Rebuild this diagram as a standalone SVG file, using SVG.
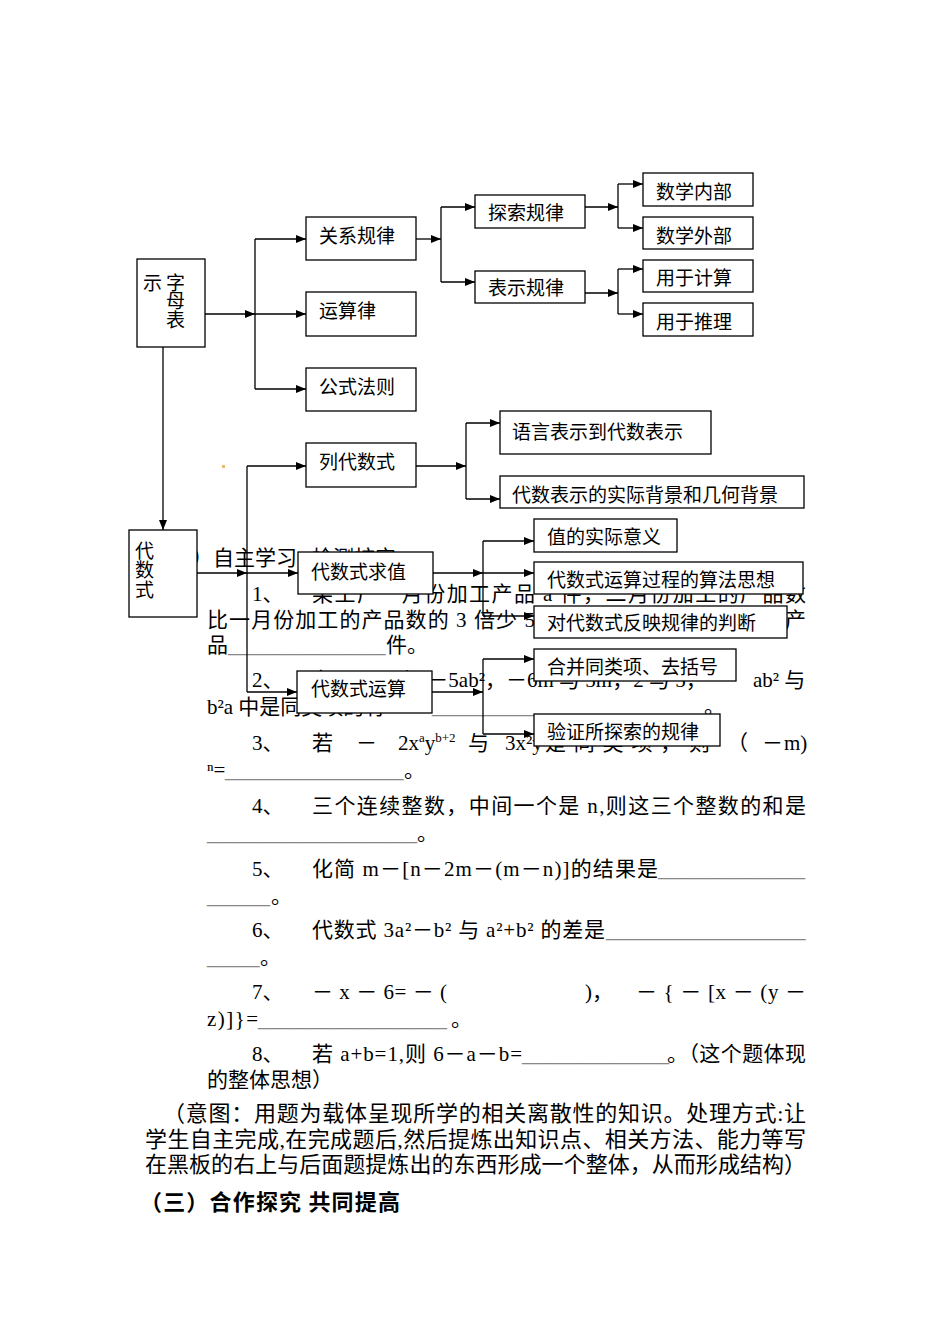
<svg xmlns="http://www.w3.org/2000/svg" width="950" height="1344" viewBox="0 0 950 1344">
<style>
.t{font-family:"Liberation Serif","Noto Sans CJK SC",serif;font-size:21px;fill:#000}
.p{font-family:"Liberation Serif","Noto Sans CJK SC",serif;font-size:22px;fill:#000}
.h{font-family:"Noto Sans CJK SC",sans-serif;font-size:22px;font-weight:bold;fill:#000}
.u{font-family:"Liberation Serif",serif;font-size:21px;fill:#888}
.s{font-size:13px}
.box{fill:#fff;stroke:#000;stroke-width:1.3}
.lbl{font-family:"Noto Sans CJK SC",sans-serif;font-size:19px;fill:#000}
.c{stroke:#000;stroke-width:1.3;fill:none}
.a{marker-end:url(#arr)}
</style>
<defs>
<marker id="arr" markerUnits="userSpaceOnUse" markerWidth="10" markerHeight="8" refX="10" refY="4" orient="auto">
<path d="M0,0 L10,4 L0,8 z" fill="#000"/>
</marker>
</defs>
<rect width="950" height="1344" fill="#fff"/>

<g id="body-text">
<text class="t" x="150" y="565">（二）自主学习</text>
<text class="t" x="312" y="565">检测核实</text>

<text class="t" x="252" y="601">1、</text>
<text class="t" x="312" y="601" textLength="494" lengthAdjust="spacing">某工厂一月份加工产品 a 件，二月份加工的产品数</text>
<text class="t" x="207" y="627" textLength="599" lengthAdjust="spacing">比一月份加工的产品数的 3 倍少 5 件，则一、二月份共加工产</text>
<text class="t" x="207" y="652">品</text>
<text class="u" x="228" y="652">_______________</text>
<text class="t" x="386" y="652">件。</text>

<text class="t" x="252" y="687">2、</text>
<text class="t" x="312" y="687">在 －3a²b 与 －5ab²，－6m 与 5m，2 与 5，</text>
<text class="t" x="753" y="687">ab² 与</text>
<text class="t" x="207" y="714">b²a 中是同类项的有</text>
<text class="u" x="432" y="713">__________________________</text>
<text class="t" x="704" y="713">。</text>

<text class="t" x="252" y="750">3、</text>
<text class="t" x="312" y="750">若</text>
<text class="t" x="356" y="750">－</text>
<text class="t" x="398" y="750">2x<tspan class="s" dy="-8">a</tspan><tspan dy="8">y</tspan><tspan class="s" dy="-8">b+2</tspan></text>
<text class="t" x="468" y="750">与</text>
<text class="t" x="505" y="750">3x²y<tspan class="s" dy="-8">4</tspan></text>
<text class="t" x="545" y="750" textLength="165" lengthAdjust="spacing">是同类项，则</text>
<text class="t" x="727" y="750">（</text>
<text class="t" x="762" y="750">－</text>
<text class="t" x="784" y="750">m)</text>
<text class="t" x="207" y="777">ⁿ=</text>
<text class="u" x="225" y="777">_________________</text>
<text class="t" x="404" y="777">。</text>

<text class="t" x="252" y="813">4、</text>
<text class="t" x="312" y="813" textLength="494" lengthAdjust="spacing">三个连续整数，中间一个是 n,则这三个整数的和是</text>
<text class="u" x="207" y="840">____________________</text>
<text class="t" x="417" y="840">。</text>

<text class="t" x="252" y="876">5、</text>
<text class="t" x="312" y="876" textLength="346" lengthAdjust="spacing">化简 m－[n－2m－(m－n)]的结果是</text>
<text class="u" x="658" y="876">______________</text>
<text class="u" x="207" y="903">______</text>
<text class="t" x="271" y="903">。</text>

<text class="t" x="252" y="937">6、</text>
<text class="t" x="312" y="937" textLength="293" lengthAdjust="spacing">代数式 3a²－b² 与 a²+b² 的差是</text>
<text class="u" x="606" y="937">___________________</text>
<text class="u" x="207" y="964">_____</text>
<text class="t" x="260" y="964">。</text>

<text class="t" x="252" y="999">7、</text>
<text class="t" x="312" y="999" textLength="135" lengthAdjust="spacing">－ x － 6= － (</text>
<text class="t" x="585" y="999">)，</text>
<text class="t" x="636" y="999" textLength="170" lengthAdjust="spacing">－ { － [x － (y －</text>
<text class="t" x="207" y="1026" textLength="51" lengthAdjust="spacing">z)]}=</text>
<text class="u" x="258" y="1026">__________________</text>
<text class="t" x="451" y="1026">。</text>

<text class="t" x="252" y="1061">8、</text>
<text class="t" x="312" y="1061" textLength="210" lengthAdjust="spacing">若 a+b=1,则 6－a－b=</text>
<text class="u" x="522" y="1061">______________</text>
<text class="t" x="667" y="1061" textLength="139" lengthAdjust="spacing">。（这个题体现</text>
<text class="t" x="207" y="1087">的整体思想）</text>

<text class="p" x="163" y="1121" textLength="643" lengthAdjust="spacing">（意图：用题为载体呈现所学的相关离散性的知识。处理方式:让</text>
<text class="p" x="145" y="1147" textLength="661" lengthAdjust="spacing">学生自主完成,在完成题后,然后提炼出知识点、相关方法、能力等写</text>
<text class="p" x="145" y="1172" textLength="661" lengthAdjust="spacing">在黑板的右上与后面题提炼出的东西形成一个整体，从而形成结构）</text>
<text class="h" x="140" y="1210" textLength="260" lengthAdjust="spacing">（三）合作探究 共同提高</text>
<rect x="222" y="465" width="3" height="3" fill="#EDB96B"/>
</g>

<g id="connectors">
<path class="c a" d="M205,314 H255"/>
<path class="c" d="M255,239 V389"/>
<path class="c a" d="M255,239 H306"/>
<path class="c a" d="M255,314 H306"/>
<path class="c a" d="M255,389 H306"/>
<path class="c a" d="M163,347 V530"/>
<path class="c a" d="M416,239 H441"/>
<path class="c" d="M441,207 V282"/>
<path class="c a" d="M441,207 H475"/>
<path class="c a" d="M441,282 H475"/>
<path class="c a" d="M585,207 H618"/>
<path class="c" d="M618,184 V228"/>
<path class="c a" d="M618,184 H643"/>
<path class="c a" d="M618,228 H643"/>
<path class="c a" d="M585,293 H618"/>
<path class="c" d="M618,269 V314"/>
<path class="c a" d="M618,269 H643"/>
<path class="c a" d="M618,314 H643"/>
<path class="c" d="M247,466 V692"/>
<path class="c a" d="M247,466 H306"/>
<path class="c a" d="M197,573 H247"/>
<path class="c a" d="M247,573 H298"/>
<path class="c a" d="M247,692 H297"/>
<path class="c a" d="M416,466 H466"/>
<path class="c" d="M466,423 V499"/>
<path class="c a" d="M466,423 H500"/>
<path class="c a" d="M466,499 H500"/>
<path class="c a" d="M433,573 H483"/>
<path class="c" d="M483,541 V616"/>
<path class="c a" d="M483,541 H534"/>
<path class="c a" d="M483,573 H534"/>
<path class="c a" d="M483,616 H534"/>
<path class="c a" d="M432,692 H483"/>
<path class="c" d="M483,659 V734"/>
<path class="c a" d="M483,659 H534"/>
<path class="c a" d="M483,734 H534"/>
</g>

<g id="n-zimubiao"><rect class="box" x="137" y="259" width="68" height="88"/>
<text class="lbl" x="143" y="290">示</text><text class="lbl" x="166" y="290">字</text><text class="lbl" x="166" y="308">母</text><text class="lbl" x="166" y="327">表</text></g>
<g id="n-guanxi"><rect class="box" x="306" y="217" width="110" height="43"/><text class="lbl" x="319" y="243">关系规律</text></g>
<g id="n-yunsuanlv"><rect class="box" x="306" y="292" width="110" height="44"/><text class="lbl" x="319" y="318">运算律</text></g>
<g id="n-gongshi"><rect class="box" x="306" y="368" width="110" height="43"/><text class="lbl" x="319" y="394">公式法则</text></g>
<g id="n-tansuo"><rect class="box" x="475" y="195" width="110" height="33"/><text class="lbl" x="488" y="220">探索规律</text></g>
<g id="n-biaoshi"><rect class="box" x="475" y="271" width="110" height="32"/><text class="lbl" x="488" y="295">表示规律</text></g>
<g id="n-neibu"><rect class="box" x="643" y="173" width="110" height="33"/><text class="lbl" x="656" y="199">数学内部</text></g>
<g id="n-waibu"><rect class="box" x="643" y="217" width="110" height="32"/><text class="lbl" x="656" y="243">数学外部</text></g>
<g id="n-jisuan"><rect class="box" x="643" y="260" width="110" height="32"/><text class="lbl" x="656" y="285">用于计算</text></g>
<g id="n-tuili"><rect class="box" x="643" y="303" width="110" height="33"/><text class="lbl" x="656" y="329">用于推理</text></g>
<g id="n-daishushi"><rect class="box" x="129" y="530" width="68" height="87"/>
<text class="lbl" x="135" y="558">代</text><text class="lbl" x="135" y="577">数</text><text class="lbl" x="135" y="597">式</text></g>
<g id="n-lie"><rect class="box" x="306" y="443" width="110" height="44"/><text class="lbl" x="319" y="469">列代数式</text></g>
<g id="n-yuyan"><rect class="box" x="500" y="411" width="211" height="43"/><text class="lbl" x="512" y="439">语言表示到代数表示</text></g>
<g id="n-beijing"><rect class="box" x="500" y="476" width="304" height="32"/><text class="lbl" x="512" y="502">代数表示的实际背景和几何背景</text></g>
<g id="n-qiuzhi"><rect class="box" x="298" y="552" width="135" height="42"/><text class="lbl" x="311" y="579">代数式求值</text></g>
<g id="n-yiyi"><rect class="box" x="534" y="519" width="143" height="33"/><text class="lbl" x="547" y="544">值的实际意义</text></g>
<g id="n-suanfa"><rect class="box" x="534" y="562" width="269" height="32"/><text class="lbl" x="547" y="587">代数式运算过程的算法思想</text></g>
<g id="n-panduan"><rect class="box" x="534" y="606" width="253" height="32"/><text class="lbl" x="547" y="630">对代数式反映规律的判断</text></g>
<g id="n-yunsuan"><rect class="box" x="297" y="671" width="135" height="42"/><text class="lbl" x="311" y="696">代数式运算</text></g>
<g id="n-hebing"><rect class="box" x="534" y="649" width="202" height="32"/><text class="lbl" x="547" y="674">合并同类项、去括号</text></g>
<g id="n-yanzheng"><rect class="box" x="534" y="714" width="186" height="32"/><text class="lbl" x="547" y="739">验证所探索的规律</text></g>
</svg>
